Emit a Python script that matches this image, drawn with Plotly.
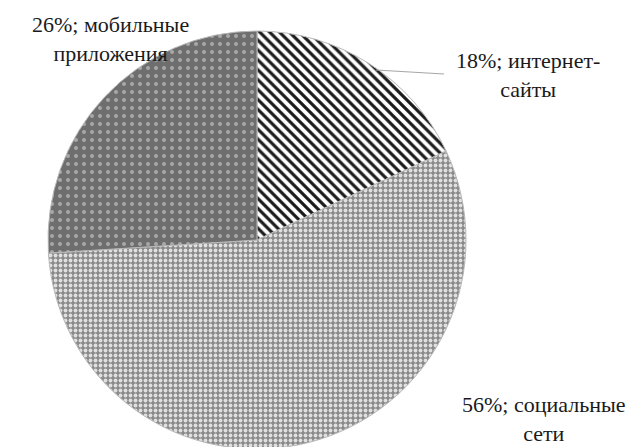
import plotly.graph_objects as go

categories = ["интернет-сайты", "социальные сети", "мобильные приложения"]
values = [18, 56, 26]
label_texts = ["18%; интернет-<br>сайты", "56%; социальные<br>сети", "26%; мобильные<br>приложения"]

W, H = 640, 447

def px(x):
    return x / W

def py(y):
    return 1 - y / H

fig = go.Figure(go.Pie(
    labels=categories,
    values=values,
    sort=False,
    direction="clockwise",
    rotation=0,
    textinfo="none",
    hoverinfo="label+percent",
    domain=dict(x=[px(40), px(458)], y=[0, py(17)]),
    marker=dict(
        colors=["#ffffff", "#9a9a9a", "#737373"],
        line=dict(color="#b8b8b8", width=1),
        pattern=dict(
            shape=["\\", ".", "."],
            fgcolor=["#1a1a1a", "#e0e0e0", "#a8a8a8"],
            bgcolor=["#ffffff", "#8a8a8a", "#6e6e6e"],
            size=[7, 5, 8],
            solidity=[0.45, 0.45, 0.2],
            fillmode="replace",
        ),
    ),
))

font = dict(family="Liberation Serif", size=22, color="#1a1a1a")

label_pos = [(520, 67), (536, 411), (102, 31)]
annotations = []
for t, (x, y) in zip(label_texts, label_pos):
    annotations.append(dict(
        text=t, x=px(x), y=py(y), xref="paper", yref="paper",
        showarrow=False, font=font, align="center",
        xanchor="center", yanchor="middle",
    ))

shapes = [
    dict(type="line", xref="paper", yref="paper",
         x0=px(368), y0=py(62), x1=px(436), y1=py(66),
         line=dict(color="#a6a6a6", width=1)),
    dict(type="line", xref="paper", yref="paper",
         x0=px(340), y0=py(440), x1=px(448), y1=py(446),
         line=dict(color="#a6a6a6", width=1)),
]

fig.update_layout(
    width=W, height=H,
    margin=dict(l=0, r=0, t=0, b=0),
    paper_bgcolor="white",
    plot_bgcolor="white",
    showlegend=False,
    annotations=annotations,
    shapes=shapes,
)

fig.write_html("out.html")
